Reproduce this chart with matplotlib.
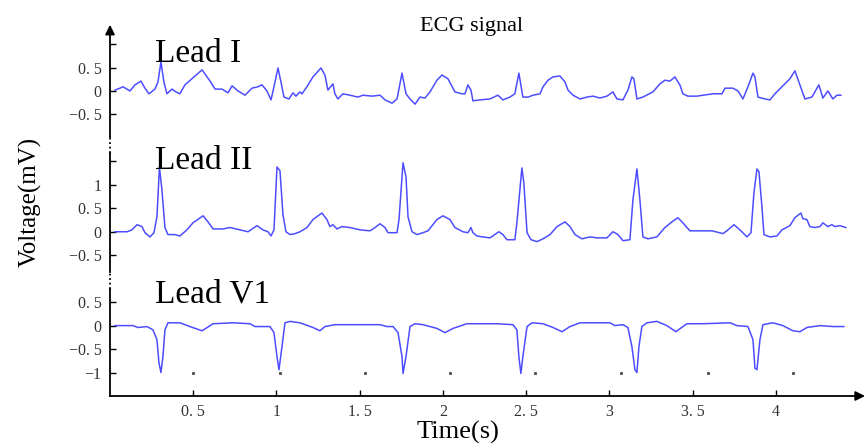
import numpy as np
import matplotlib
matplotlib.use('Agg')
import matplotlib.pyplot as plt

plt.rcParams['font.family'] = ['Liberation Serif', 'DejaVu Serif']

# Lead I (time s, voltage mV)
t1 = [0.030, 0.060, 0.078, 0.120, 0.150, 0.186, 0.210, 0.234, 0.270, 0.288, 0.306, 0.324, 0.342,
      0.372, 0.396, 0.420, 0.450, 0.492, 0.553, 0.601, 0.631, 0.673, 0.709, 0.733, 0.769, 0.811,
      0.853, 0.889, 0.913, 0.943, 0.967, 0.985, 1.009, 1.027, 1.045, 1.075, 1.099, 1.117, 1.141,
      1.153, 1.183, 1.219, 1.267, 1.291, 1.309, 1.339, 1.351, 1.369, 1.399, 1.441, 1.489, 1.520,
      1.574, 1.622, 1.652, 1.694, 1.724, 1.754, 1.778, 1.802, 1.832, 1.862, 1.892, 1.922, 1.964,
      1.994, 2.030, 2.072, 2.114, 2.132, 2.150, 2.168, 2.180, 2.222, 2.282, 2.330, 2.360, 2.402,
      2.432, 2.456, 2.480, 2.511, 2.541, 2.583, 2.601, 2.631, 2.661, 2.703, 2.733, 2.751, 2.781,
      2.823, 2.865, 2.901, 2.943, 2.985, 3.021, 3.045, 3.081, 3.111, 3.135, 3.147, 3.165, 3.201,
      3.261, 3.303, 3.333, 3.363, 3.393, 3.423, 3.441, 3.471, 3.526, 3.562, 3.622, 3.676, 3.694,
      3.742, 3.772, 3.802, 3.832, 3.862, 3.874, 3.892, 3.934, 3.964, 3.994, 4.036, 4.084, 4.114,
      4.144, 4.174, 4.216, 4.240, 4.258, 4.282, 4.312, 4.342, 4.366, 4.390]
v1 = [0.02, 0.06, 0.09, 0.00, 0.13, 0.21, 0.06, -0.06, 0.04, 0.19, 0.62, 0.19, -0.06,
      0.04, -0.02, -0.06, 0.13, 0.26, 0.45, 0.21, 0.04, 0.04, -0.04, 0.11, 0.00, -0.09,
      0.06, 0.09, 0.13, 0.00, -0.19, 0.09, 0.49, 0.19, -0.13, -0.17, -0.04, -0.11, -0.02,
      -0.06, 0.09, 0.30, 0.49, 0.34, 0.02, 0.15, -0.06, -0.17, -0.06, -0.09, -0.13, -0.09,
      -0.11, -0.09, -0.19, -0.26, -0.17, 0.38, -0.06, -0.17, -0.28, -0.13, -0.15, -0.02, 0.23,
      0.34, 0.26, -0.02, -0.06, -0.06, 0.13, 0.02, -0.21, -0.19, -0.17, -0.09, -0.19, -0.13,
      -0.06, 0.38, -0.13, -0.13, -0.09, -0.06, 0.09, 0.23, 0.30, 0.32, 0.19, 0.02, -0.09,
      -0.17, -0.13, -0.11, -0.15, -0.11, -0.02, -0.17, -0.19, 0.02, 0.30, 0.26, -0.17, -0.13,
      -0.02, 0.15, 0.23, 0.21, 0.30, 0.13, -0.06, -0.11, -0.11, -0.09, -0.06, -0.06, 0.06,
      0.06, 0.00, -0.17, 0.09, 0.38, 0.30, -0.13, -0.17, -0.19, -0.06, 0.09, 0.26, 0.43,
      0.13, -0.17, -0.13, 0.02, 0.13, -0.15, 0.00, -0.17, -0.09, -0.09]

# Lead II
t2 = [0.030, 0.102, 0.132, 0.162, 0.192, 0.210, 0.240, 0.264, 0.282, 0.297, 0.312, 0.330, 0.348,
      0.390, 0.420, 0.462, 0.498, 0.559, 0.589, 0.619, 0.679, 0.721, 0.781, 0.829, 0.883, 0.919,
      0.949, 0.967, 0.985, 1.003, 1.021, 1.039, 1.057, 1.081, 1.111, 1.141, 1.183, 1.219, 1.273,
      1.303, 1.321, 1.339, 1.363, 1.393, 1.441, 1.502, 1.562, 1.592, 1.622, 1.652, 1.670, 1.724,
      1.736, 1.760, 1.778, 1.790, 1.814, 1.844, 1.880, 1.910, 1.964, 2.000, 2.042, 2.072, 2.120,
      2.150, 2.168, 2.180, 2.204, 2.240, 2.282, 2.336, 2.360, 2.384, 2.432, 2.444, 2.474, 2.486,
      2.505, 2.529, 2.565, 2.601, 2.643, 2.685, 2.733, 2.763, 2.793, 2.835, 2.883, 2.925, 2.985,
      3.021, 3.051, 3.081, 3.123, 3.141, 3.165, 3.183, 3.201, 3.231, 3.285, 3.333, 3.375, 3.411,
      3.441, 3.483, 3.544, 3.616, 3.682, 3.712, 3.748, 3.784, 3.826, 3.850, 3.868, 3.886, 3.898,
      3.916, 3.928, 3.964, 4.006, 4.036, 4.084, 4.114, 4.150, 4.162, 4.186, 4.204, 4.234, 4.264,
      4.282, 4.312, 4.336, 4.354, 4.384, 4.420]
v2 = [0.00, 0.00, 0.04, 0.15, 0.11, -0.02, -0.11, -0.02, 0.32, 1.38, 0.89, 0.09, -0.06,
      -0.06, -0.09, 0.04, 0.19, 0.34, 0.21, 0.06, 0.06, 0.09, 0.04, 0.00, 0.13, 0.04,
      0.00, -0.09, 0.04, 1.38, 1.30, 0.36, 0.00, -0.06, -0.04, 0.00, 0.09, 0.26, 0.40,
      0.26, 0.11, 0.15, 0.06, 0.11, 0.09, 0.04, 0.02, 0.09, 0.17, 0.09, -0.02, -0.02,
      0.26, 1.47, 1.17, 0.32, 0.00, -0.06, -0.02, 0.02, 0.26, 0.34, 0.26, 0.09, 0.00,
      -0.02, 0.09, -0.02, -0.09, -0.11, -0.13, 0.00, -0.06, -0.17, -0.17, 0.19, 1.36, 1.04,
      -0.02, -0.17, -0.21, -0.15, -0.06, 0.11, 0.21, 0.11, -0.06, -0.15, -0.11, -0.13, -0.13,
      0.00, -0.06, -0.19, -0.17, 0.68, 1.34, 0.68, -0.11, -0.15, -0.11, 0.09, 0.21, 0.30,
      0.19, 0.02, 0.02, 0.02, -0.04, 0.04, 0.15, 0.04, -0.11, -0.02, 0.83, 1.34, 1.28,
      0.53, -0.06, -0.11, -0.09, 0.04, 0.13, 0.30, 0.40, 0.28, 0.26, 0.11, 0.09, 0.11,
      0.19, 0.11, 0.15, 0.11, 0.13, 0.09]

# Lead V1
t3 = [0.030, 0.138, 0.168, 0.222, 0.258, 0.282, 0.294, 0.306, 0.318, 0.330, 0.348, 0.420, 0.480,
      0.553, 0.619, 0.739, 0.841, 0.871, 0.901, 0.961, 0.985, 1.003, 1.015, 1.033, 1.051, 1.081,
      1.141, 1.219, 1.261, 1.291, 1.351, 1.423, 1.520, 1.622, 1.664, 1.700, 1.730, 1.754, 1.760,
      1.778, 1.802, 1.832, 1.880, 1.964, 2.012, 2.060, 2.144, 2.222, 2.324, 2.420, 2.444, 2.456,
      2.468, 2.480, 2.505, 2.535, 2.601, 2.661, 2.715, 2.763, 2.823, 2.901, 3.003, 3.033, 3.081,
      3.111, 3.135, 3.153, 3.165, 3.177, 3.195, 3.225, 3.285, 3.345, 3.399, 3.465, 3.562, 3.724,
      3.766, 3.832, 3.862, 3.874, 3.886, 3.904, 3.922, 3.982, 4.042, 4.102, 4.144, 4.186, 4.264,
      4.342, 4.408]
v3 = [0.00, 0.00, -0.04, -0.02, -0.09, -0.30, -0.79, -1.00, -0.66, -0.09, 0.06, 0.06, -0.02,
      -0.11, 0.04, 0.06, 0.04, -0.02, -0.02, -0.02, -0.15, -0.66, -0.94, -0.45, 0.06, 0.09,
      0.06, -0.04, -0.11, -0.02, 0.02, 0.02, 0.02, 0.02, -0.02, -0.02, -0.15, -0.66, -1.02,
      -0.66, -0.02, 0.04, 0.02, -0.06, -0.15, -0.06, 0.04, 0.04, 0.04, 0.02, -0.09, -0.66,
      -1.02, -0.66, -0.02, 0.06, 0.04, -0.04, -0.13, -0.02, 0.06, 0.06, 0.06, 0.00, 0.02,
      -0.04, -0.45, -0.94, -1.00, -0.45, -0.02, 0.06, 0.09, 0.00, -0.13, 0.04, 0.04, 0.06,
      0.00, -0.02, -0.30, -0.91, -0.94, -0.30, 0.02, 0.06, 0.00, -0.11, -0.13, -0.04, 0.00,
      -0.02, -0.02]

# stray tick dots left in the V1 panel (at -1 mV)
dot_t = [0.50, 1.02, 1.53, 2.04, 2.55, 3.07, 3.59, 4.10]

leads = ['Lead I', 'Lead II', 'Lead V1']
offsets = [5, 2, 0]
xticks = [0.5, 1, 1.5, 2, 2.5, 3, 3.5, 4]
xlabels = ['0. 5', '1', '1. 5', '2', '2. 5', '3', '3. 5', '4']
# tick values per lead (mV) and their labels
lead_ticks = [[1, 0.5, 0, -0.5], [1.5, 1, 0.5, 0, -0.5], [0.5, 0, -0.5, -1]]
lead_tlabels = [['', '0. 5', '0', '\u22120. 5'],
                ['', '1', '0. 5', '0', '\u22120. 5'],
                ['0. 5', '0', '\u22120. 5', '\u22121']]

line_c = '#4d4dff'

fig = plt.figure(figsize=(8.65, 4.43), dpi=100)
ax = fig.add_axes([110 / 865, 47 / 443, 755 / 865, 374 / 443])
ax.set_xlim(0, 4.535)
ax.set_ylim(-1.5, 6.47)

for t, v, off in zip([t1, t2, t3], [v1, v2, v3], offsets):
    ax.plot(t, np.array(v) + off, color=line_c, lw=1.1, solid_joinstyle='round')

ax.plot(dot_t, [-1.0] * len(dot_t), ls='none', marker='s', ms=1.2, color='#555555')

label_base = {5: 0.62, 2: 1.34, 0: 0.49}
for name, off in zip(leads, offsets):
    ax.text(0.27, off + label_base[off], name, fontsize=24, ha='left', va='baseline')

yt, yl = [], []
for off, tk, lb in zip(offsets, lead_ticks, lead_tlabels):
    yt += [off + k for k in tk]
    yl += lb
ax.set_yticks(yt)
ax.set_yticklabels(yl)
ax.set_xticks(xticks)
ax.set_xticklabels(xlabels)
ax.tick_params(axis='y', direction='in', length=4.5, width=1.0, labelsize=11.5, pad=6,
               labelcolor='#333333')
ax.tick_params(axis='x', direction='in', length=4, width=1.0, labelsize=11.5, pad=6,
               labelcolor='#333333')

for s in ax.spines.values():
    s.set_visible(False)

# y axis: solid pieces with dotted joins between the panels
breaks = [-1.5, 0.77, 1.15, 3.68, 4.02, 6.2]
for i in range(len(breaks) - 1):
    ax.plot([0, 0], [breaks[i], breaks[i + 1]], color='k', lw=1.3,
            ls='-' if i % 2 == 0 else (0, (1, 1.5)), clip_on=False)
ax.annotate('', xy=(0, 1), xytext=(0, 0.96), xycoords='axes fraction',
            arrowprops=dict(arrowstyle='-|>', color='k', lw=1.3, mutation_scale=14))
ax.annotate('', xy=(1, 0), xytext=(0, 0), xycoords='axes fraction',
            arrowprops=dict(arrowstyle='-|>', color='k', lw=1.3, mutation_scale=14,
                            shrinkA=0, shrinkB=0))

fig.text(472 / 865, 1 - 27 / 443, 'ECG signal', fontsize=16, ha='center', va='center')
fig.text(458 / 865, 1 - 432 / 443, 'Time(s)', fontsize=19, ha='center', va='center')
fig.text(30 / 865, 1 - 202 / 443, 'Voltage(mV)', fontsize=18, ha='center', va='center',
         rotation=90)

fig.savefig('out.png', dpi=100)
